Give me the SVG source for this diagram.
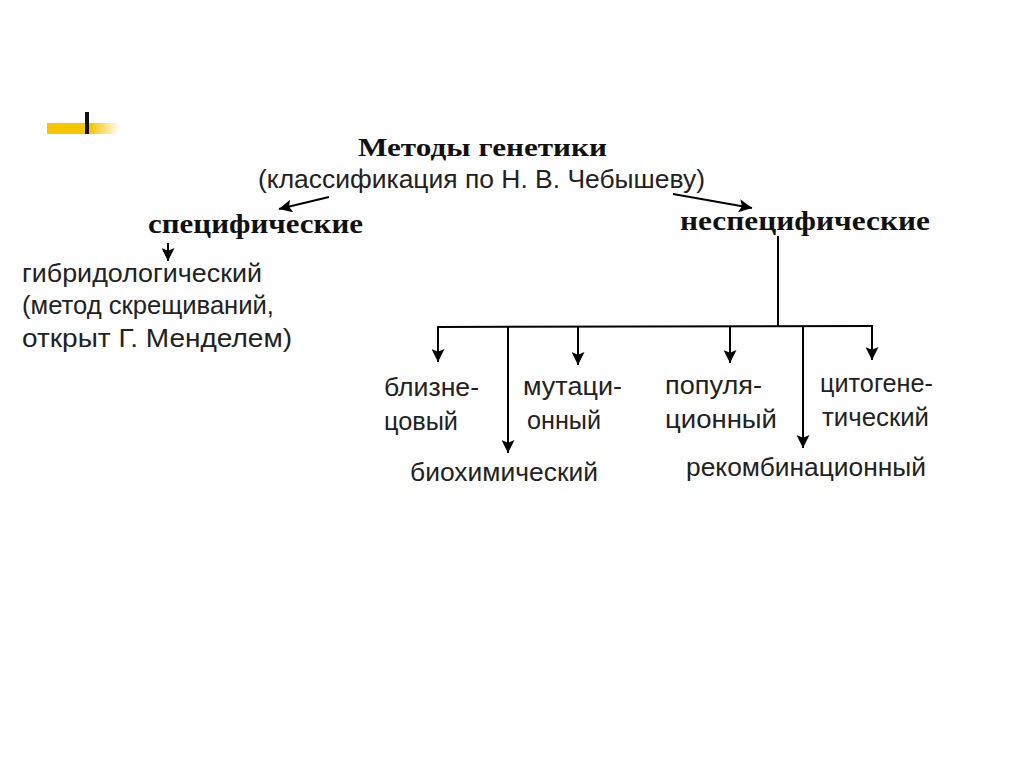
<svg xmlns="http://www.w3.org/2000/svg" width="1024" height="768" viewBox="0 0 1024 768">
<defs>
<linearGradient id="yg" x1="0" y1="0" x2="1" y2="0">
<stop offset="0" stop-color="#f7c600"/>
<stop offset="0.6" stop-color="#f7c600"/>
<stop offset="1" stop-color="#f7c600" stop-opacity="0"/>
</linearGradient>
<marker id="ah" viewBox="0 0 14 14" refX="14" refY="7" markerWidth="14" markerHeight="13" markerUnits="userSpaceOnUse" orient="auto">
<path d="M0,0 L14,7 L0,14 L3,7 Z" fill="#000"/>
</marker>
<style>
.t{font-family:"Liberation Serif","Times New Roman",serif;font-weight:bold;fill:#111}
.s{font-family:"Liberation Sans",Arial,sans-serif;fill:#222}
.c{stroke:#000;stroke-width:2;fill:none}
.a{stroke:#000;stroke-width:2;fill:none;marker-end:url(#ah)}
</style>
</defs>
<rect width="1024" height="768" fill="#fff"/>
<g id="deco">
<rect x="47" y="123" width="73" height="11" fill="url(#yg)"/>
<rect x="85" y="112" width="4" height="22" fill="#111"/>
</g>
<g id="title">
<text class="t" x="358" y="156" font-size="25" textLength="249" lengthAdjust="spacingAndGlyphs">Методы генетики</text>
<text class="s" x="258" y="188" font-size="25" textLength="447" lengthAdjust="spacingAndGlyphs">(классификация по Н. В. Чебышеву)</text>
</g>
<g id="specific">
<text class="t" x="148" y="233" font-size="28" textLength="215" lengthAdjust="spacingAndGlyphs">специфические</text>
</g>
<g id="nonspecific">
<text class="t" x="680" y="230" font-size="28" textLength="250" lengthAdjust="spacingAndGlyphs">неспецифические</text>
</g>
<g id="hybrid">
<text class="s" x="22" y="282" font-size="26" textLength="240" lengthAdjust="spacingAndGlyphs">гибридологический</text>
<text class="s" x="22" y="314" font-size="26" textLength="252" lengthAdjust="spacingAndGlyphs">(метод скрещиваний,</text>
<text class="s" x="22" y="347" font-size="26" textLength="270" lengthAdjust="spacingAndGlyphs">открыт  Г. Менделем)</text>
</g>
<g id="twin">
<text class="s" x="384" y="396" font-size="26" textLength="95" lengthAdjust="spacingAndGlyphs">близне-</text>
<text class="s" x="384" y="430" font-size="26" textLength="74" lengthAdjust="spacingAndGlyphs">цовый</text>
</g>
<g id="mutation">
<text class="s" x="523" y="395" font-size="26" textLength="99" lengthAdjust="spacingAndGlyphs">мутаци-</text>
<text class="s" x="527" y="429" font-size="26" textLength="74" lengthAdjust="spacingAndGlyphs">онный</text>
</g>
<g id="population">
<text class="s" x="665" y="394" font-size="26" textLength="97" lengthAdjust="spacingAndGlyphs">популя-</text>
<text class="s" x="665" y="428" font-size="26" textLength="112" lengthAdjust="spacingAndGlyphs">ционный</text>
</g>
<g id="cyto">
<text class="s" x="820" y="392" font-size="26" textLength="113" lengthAdjust="spacingAndGlyphs">цитогене-</text>
<text class="s" x="822" y="426" font-size="26" textLength="107" lengthAdjust="spacingAndGlyphs">тический</text>
</g>
<g id="biochem">
<text class="s" x="410" y="481" font-size="26" textLength="188" lengthAdjust="spacingAndGlyphs">биохимический</text>
</g>
<g id="recomb">
<text class="s" x="686" y="476" font-size="26" textLength="240" lengthAdjust="spacingAndGlyphs">рекомбинационный</text>
</g>
<g id="connectors">
<line class="a" x1="329" y1="197" x2="279" y2="209"/>
<line class="a" x1="673" y1="194" x2="752" y2="208"/>
<line class="a" x1="168" y1="243" x2="168" y2="261"/>
<line class="c" x1="778" y1="236" x2="778" y2="327"/>
<line class="c" x1="437" y1="327" x2="873" y2="326"/>
<line class="a" x1="438" y1="327" x2="438" y2="362"/>
<line class="a" x1="508" y1="327" x2="508" y2="453"/>
<line class="a" x1="578" y1="327" x2="578" y2="365"/>
<line class="a" x1="730" y1="326" x2="730" y2="363"/>
<line class="a" x1="803" y1="326" x2="803" y2="448"/>
<line class="a" x1="872" y1="326" x2="872" y2="360"/>
</g>
</svg>
